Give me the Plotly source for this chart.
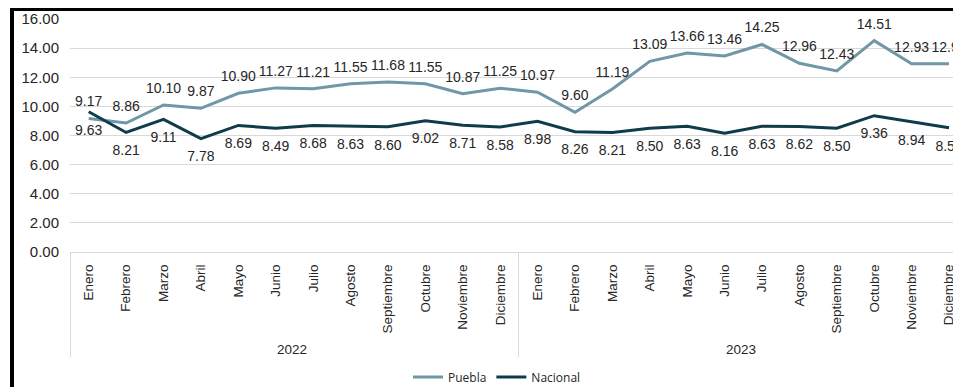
import plotly.graph_objects as go

years = ["2022"] * 12 + ["2023"] * 12
months = ["Enero", "Febrero", "Marzo", "Abril", "Mayo", "Junio", "Julio", "Agosto",
          "Septiembre", "Octubre", "Noviembre", "Diciembre"] * 2

puebla = [9.17, 8.86, 10.10, 9.87, 10.90, 11.27, 11.21, 11.55, 11.68, 11.55, 10.87, 11.25,
          10.97, 9.60, 11.19, 13.09, 13.66, 13.46, 14.25, 12.96, 12.43, 14.51, 12.93, 12.92]
nacional = [9.63, 8.21, 9.11, 7.78, 8.69, 8.49, 8.68, 8.63, 8.60, 9.02, 8.71, 8.58,
            8.98, 8.26, 8.21, 8.50, 8.63, 8.16, 8.63, 8.62, 8.50, 9.36, 8.94, 8.53]

y_ticks = [0, 2, 4, 6, 8, 10, 12, 14, 16]

C_PUE = "#7097a6"
C_NAC = "#0f3b4a"
FONT = "Liberation Sans, Arial, sans-serif"
TXT = "#262626"

fig = go.Figure()
# lines (legend entries)
fig.add_trace(go.Scatter(
    x=[years, months], y=puebla, name="Puebla", mode="lines",
    line=dict(color=C_PUE, width=3),
))
fig.add_trace(go.Scatter(
    x=[years, months], y=nacional, name="Nacional", mode="lines",
    line=dict(color=C_NAC, width=3),
))
# data labels (invisible markers give the label offset)
fig.add_trace(go.Scatter(
    x=[years, months], y=puebla, mode="markers+text", showlegend=False, hoverinfo="skip",
    marker=dict(size=12, opacity=0, color=C_PUE),
    text=[f"{v:.2f}" for v in puebla], textposition="top center",
    textfont=dict(family=FONT, size=14, color=TXT),
    cliponaxis=False,
))
fig.add_trace(go.Scatter(
    x=[years, months], y=nacional, mode="markers+text", showlegend=False, hoverinfo="skip",
    marker=dict(size=18, opacity=0, color=C_NAC),
    text=[f"{v:.2f}" for v in nacional], textposition="bottom center",
    textfont=dict(family=FONT, size=14, color=TXT),
    cliponaxis=False,
))

# page body has an 8px margin: figure sized to fill the rest of the window
OFF = 8
W, H = 961 - OFF, 387 - OFF
L = 70 - OFF
T = 19 - OFF
B = H - (252 - OFF)
pw = W - L
ph = H - T - B

def px(sx):
    return (sx - OFF - L) / pw

def py(sy):
    return (H - B - (sy - OFF)) / ph

fig.update_layout(
    width=W, height=H,
    margin=dict(l=L, r=0, t=T, b=B, autoexpand=False),
    paper_bgcolor="white", plot_bgcolor="white",
    font=dict(family=FONT, size=13, color=TXT),
    showlegend=True,
    legend=dict(orientation="h", x=px(497), xanchor="center", y=py(377), yanchor="middle",
                font=dict(family="Open Sans, Liberation Sans, sans-serif", size=12, color=TXT),
                itemwidth=30, tracegroupgap=0),
    xaxis=dict(
        type="multicategory",
        range=[-0.5, 23.32],
        tickangle=-90,
        showgrid=False,
        showline=True, linecolor="#d9d9d9", linewidth=1,
        ticks="",
        showdividers=True, dividercolor="#d9d9d9", dividerwidth=1,
        tickfont=dict(family=FONT, size=13.5, color=TXT),
        ticklabelstandoff=6,
        automargin=False,
    ),
    yaxis=dict(
        range=[0, 16], tickvals=y_ticks,
        ticktext=[f"{v:.2f}" for v in y_ticks],
        showgrid=True, gridcolor="#d9d9d9", gridwidth=1,
        zeroline=False, showline=False,
        tickfont=dict(family=FONT, size=15, color=TXT),
        ticklabelstandoff=10,
        automargin=False,
    ),
    shapes=[
        dict(type="line", xref="paper", yref="paper", x0=px(10), x1=px(975), y0=py(9), y1=py(9),
             line=dict(color="black", width=4)),
        dict(type="line", xref="paper", yref="paper", x0=px(12), x1=px(12), y0=py(7), y1=py(400),
             line=dict(color="black", width=4)),
    ],
)

fig.write_html("out.html")
